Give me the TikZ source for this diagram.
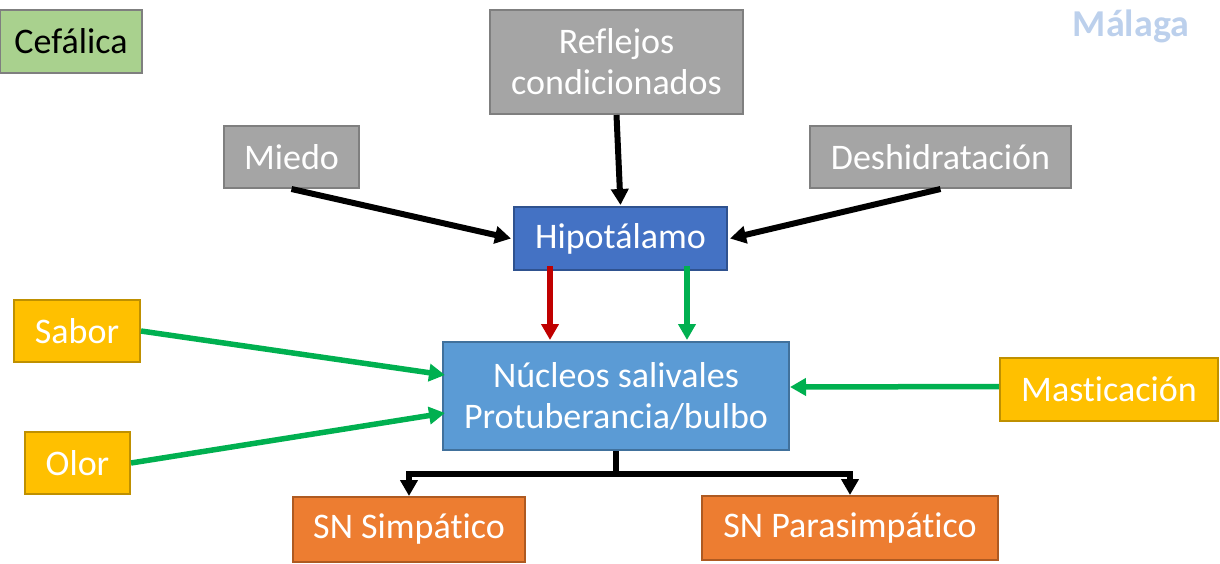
\documentclass[tikz,border=0pt]{standalone}
\usepackage{fontspec}
\setmainfont[Ligatures=NoCommon]{Carlito}
\usetikzlibrary{arrows.meta,calc}
\definecolor{gfill}{HTML}{A5A5A5}
\definecolor{gline}{HTML}{7F7F7F}
\definecolor{yfill}{HTML}{FFC000}
\definecolor{yline}{HTML}{BF9000}
\definecolor{ofill}{HTML}{ED7D31}
\definecolor{oline}{HTML}{AE5A21}
\definecolor{bfill}{HTML}{4472C4}
\definecolor{bline}{HTML}{2F528F}
\definecolor{lbfill}{HTML}{5B9BD5}
\definecolor{lbline}{HTML}{41719C}
\definecolor{cfill}{HTML}{A9D18E}
\definecolor{arrgreen}{HTML}{00B050}
\definecolor{arrred}{HTML}{C00000}
\definecolor{malaga}{HTML}{BCD0EC}
\tikzset{
  box/.style={draw, line width=2pt, inner sep=0pt, text=white, align=center,
    font=\fontsize{36}{41}\selectfont},
  graybox/.style={box, fill=gfill, draw=gline},
  yelbox/.style={box, fill=yfill, draw=yline},
  orabox/.style={box, fill=ofill, draw=oline},
  tip/.style={-{Triangle[length=16pt,width=17pt]}},
  blk/.style={tip, line width=6pt, black},
  grn/.style={tip, line width=5.5pt, arrgreen},
  rd/.style={tip, line width=6pt, arrred},
  joint/.style={line width=6pt, black}
}
\begin{document}
\begin{tikzpicture}[x=1pt,y=-1pt]
\useasboundingbox (0,0) rectangle (1220,563);
\node[box, fill=cfill, draw=gline, text=black, minimum width=142pt, minimum height=63pt,
  font=\fontsize{36}{40}\selectfont] (cef) at (71,41.5) {Cefálica};
\node[text=malaga, font=\bfseries\fontsize{38}{42}\selectfont] (mal) at (1131,26) {Málaga};
\node[graybox, minimum width=253pt, minimum height=104pt] (ref) at (616.5,62) {Reflejos\\condicionados};
\node[graybox, minimum width=135pt, minimum height=62pt] (mie) at (291.5,157) {Miedo};
\node[graybox, minimum width=261pt, minimum height=62pt] (des) at (940.5,157) {Deshidratación};
\node[box, fill=bfill, draw=bline, minimum width=213pt, minimum height=63pt] (hip) at (620.5,238.5) {Hipotálamo};
\node[yelbox, minimum width=126pt, minimum height=62pt] (sab) at (77,331) {Sabor};
\node[box, fill=lbfill, draw=lbline, minimum width=346pt, minimum height=108pt] (nuc) at (616,396) {Núcleos salivales\\Protuberancia/bulbo};
\node[yelbox, minimum width=218pt, minimum height=63pt] (mas) at (1109,389.5) {Masticación};
\node[yelbox, minimum width=105pt, minimum height=62pt] (olo) at (77.5,463) {Olor};
\node[orabox, minimum width=232pt, minimum height=65pt] (sim) at (409,529.5) {SN Simpático};
\node[orabox, minimum width=296pt, minimum height=64pt] (par) at (850,528) {SN Parasimpático};
% arrows into Hipotalamo
\draw[blk] (ref.south) -- ($(hip.north)+(0,-1)$);
\draw[blk] (mie.south) -- ($(hip.west)+(-2,0)$);
\draw[blk] (des.south) -- ($(hip.east)+(2,0)$);
% Hipotalamo to nucleos
\draw[rd] ($(hip.south)+(-70.5,-5)$) -- ($(nuc.north)+(-66,-1)$);
\draw[grn] ($(hip.south)+(66.5,-5)$) -- ($(nuc.north)+(71,-1)$);
% into nucleos
\draw[grn] (sab.east) -- ($(nuc.west)+(3,-21)$);
\draw[grn] (olo.east) -- ($(nuc.west)+(3,17)$);
\draw[grn] ($(mas.west)+(0,-3)$) -- ($(nuc.east)+(0,-9)$);
% outputs
\coordinate (j) at (616,474);
\draw[joint] (nuc.south) -- (j);
\draw[blk] (j) -| (sim.north);
\draw[blk] (j) -| (par.north);
\end{tikzpicture}
\end{document}
